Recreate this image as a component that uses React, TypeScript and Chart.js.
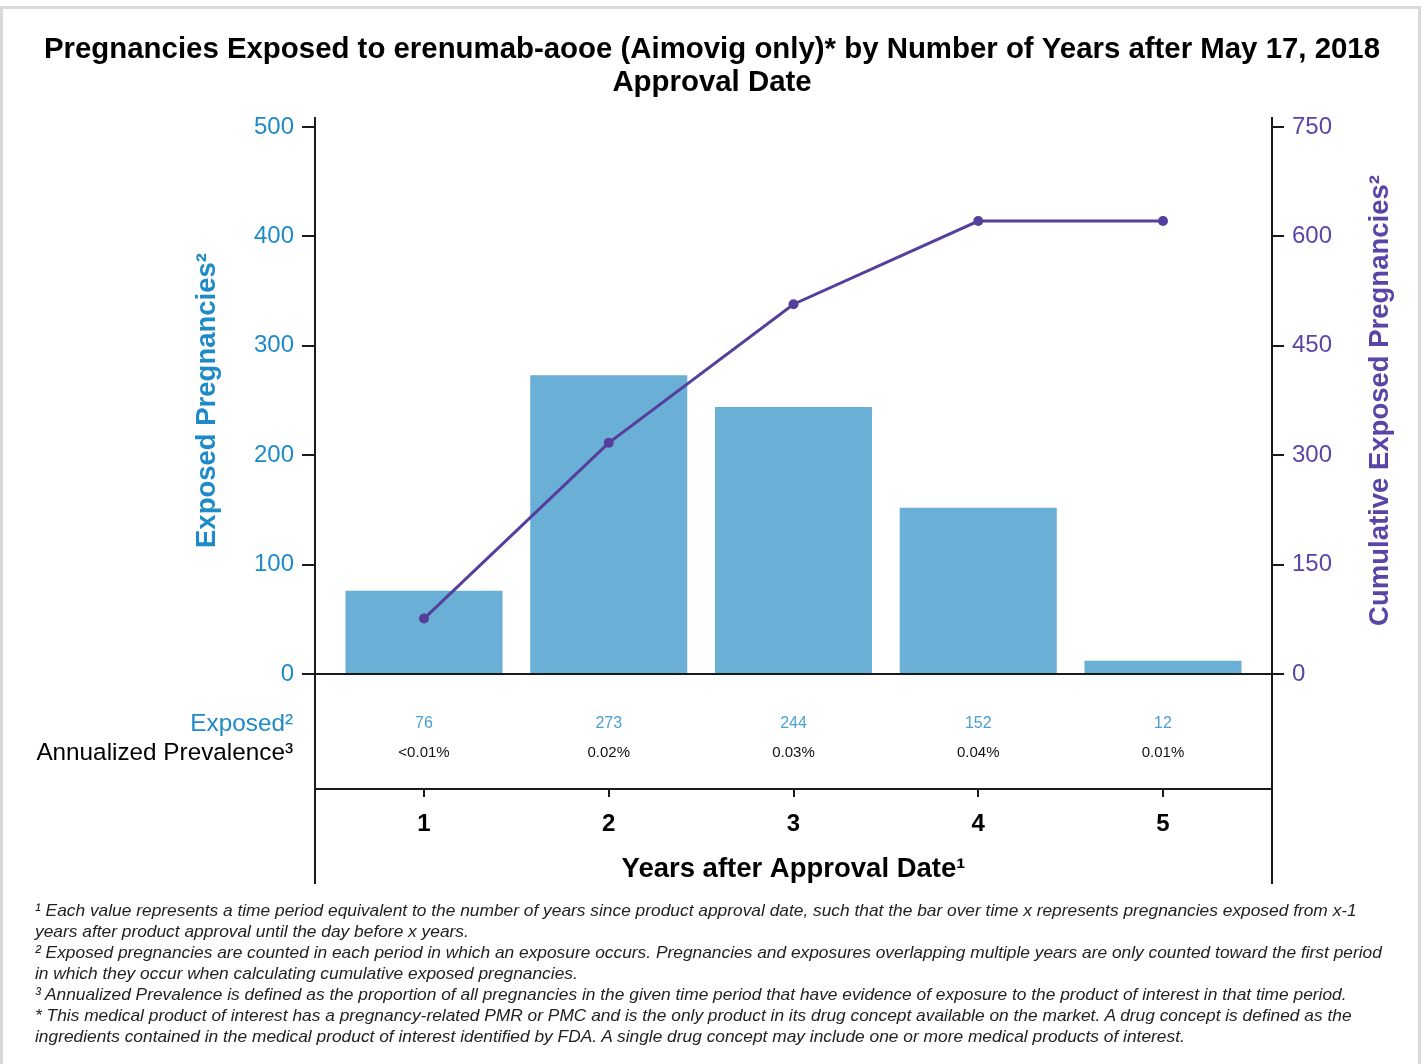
import React, { useEffect, useRef } from "react";
import { Chart, registerables } from "chart.js";

Chart.register(...registerables);

// ---------- data ----------
const years = [1, 2, 3, 4, 5];
const exposed = [76, 273, 244, 152, 12];
const cumulative = [76, 317, 507, 621, 621];
const prevalence = ["<0.01%", "0.02%", "0.03%", "0.04%", "0.01%"];
const leftTicks = [0, 100, 200, 300, 400, 500];
const rightTicks = [0, 150, 300, 450, 600, 750];
const titleLines = [
  "Pregnancies Exposed to erenumab-aooe (Aimovig only)* by Number of Years after May 17, 2018",
  "Approval Date",
];
const leftTitle = "Exposed Pregnancies\u00B2";
const rightTitle = "Cumulative Exposed Pregnancies\u00B2";
const xTitle = "Years after Approval Date\u00B9";
const rowLabels = ["Exposed\u00B2", "Annualized Prevalence\u00B3"];
const footnoteLines = [
  "\u00B9 Each value represents a time period equivalent to the number of years since product approval date, such that the bar over time x represents pregnancies exposed from x-1",
  "years after product approval until the day before x years.",
  "\u00B2 Exposed pregnancies are counted in each period in which an exposure occurs. Pregnancies and exposures overlapping multiple years are only counted toward the first period",
  "in which they occur when calculating cumulative exposed pregnancies.",
  "\u00B3 Annualized Prevalence is defined as the proportion of all pregnancies in the given time period that have evidence of exposure to the product of interest in that time period.",
  "* This medical product of interest has a pregnancy-related PMR or PMC and is the only product in its drug concept available on the market. A drug concept is defined as the",
  "ingredients contained in the medical product of interest identified by FDA. A single drug concept may include one or more medical products of interest.",
];

// ---------- styles ----------
const FONT = "'Liberation Sans', Arial, sans-serif";
const BLUE_TEXT = "#1E8AC8";
const BLUE_LIGHT = "#4A9FD5";
const BAR = "#69AFD6";
const PURPLE = "#563E9C";
const PURPLE_TEXT = "#5A45A6";
const AXIS = "#1a1a1a";
const W = 1424;
const H = 1064;

const overlayPlugin = {
  id: "overlay",
  afterDatasetsDraw(chart: any) {
    const { ctx, chartArea, scales } = chart;
    const xs = scales.x;
    const yl = scales.y;
    ctx.save();
    // axis lines (extend below x axis)
    ctx.strokeStyle = AXIS;
    ctx.lineWidth = 2;
    ctx.beginPath();
    ctx.moveTo(chartArea.left, chartArea.top);
    ctx.lineTo(chartArea.left, chartArea.bottom + 95);
    ctx.moveTo(chartArea.right, chartArea.top);
    ctx.lineTo(chartArea.right, chartArea.bottom + 95);
    const y0 = yl.getPixelForValue(0);
    ctx.moveTo(chartArea.left, y0);
    ctx.lineTo(chartArea.right, y0);
    ctx.stroke();

    // title
    ctx.fillStyle = "#000";
    ctx.textAlign = "center";
    ctx.textBaseline = "middle";
    ctx.font = `bold 29.4px ${FONT}`;
    titleLines.forEach((t, i) => ctx.fillText(t, W / 2, 50 + i * 33));

    // y axis titles
    const yMid = (yl.getPixelForValue(0) + yl.getPixelForValue(500)) / 2;
    ctx.font = `bold 27.5px ${FONT}`;
    ctx.save();
    ctx.translate(207, yMid);
    ctx.rotate(-Math.PI / 2);
    ctx.fillStyle = BLUE_TEXT;
    ctx.fillText(leftTitle, 0, 0);
    ctx.restore();
    ctx.save();
    ctx.translate(1380, yMid);
    ctx.rotate(-Math.PI / 2);
    ctx.fillStyle = PURPLE_TEXT;
    ctx.fillText(rightTitle, 0, 0);
    ctx.restore();

    // table rows
    const r1 = y0 + 50;
    const r2 = y0 + 79;
    ctx.textAlign = "right";
    ctx.font = `24.3px ${FONT}`;
    ctx.fillStyle = BLUE_TEXT;
    ctx.fillText(rowLabels[0], 293, r1);
    ctx.fillStyle = "#000";
    ctx.fillText(rowLabels[1], 293, r2);
    ctx.textAlign = "center";
    years.forEach((yr, i) => {
      const px = xs.getPixelForValue(yr);
      ctx.font = `16px ${FONT}`;
      ctx.fillStyle = BLUE_LIGHT;
      ctx.fillText(String(exposed[i]), px, r1);
      ctx.font = `15px ${FONT}`;
      ctx.fillStyle = "#111";
      ctx.fillText(prevalence[i], px, r2);
    });

    // x axis title
    ctx.font = `bold 27.5px ${FONT}`;
    ctx.fillStyle = "#000";
    ctx.fillText(xTitle, (chartArea.left + chartArea.right) / 2, chartArea.bottom + 80);
    ctx.restore();
  },
};

export default function App() {
  const ref = useRef<HTMLCanvasElement | null>(null);

  useEffect(() => {
    if (!ref.current) return;
    Chart.defaults.font.family = FONT;
    const chart = new Chart(ref.current, {
      type: "bar",
      data: {
        datasets: [
          {
            type: "line",
            label: "Cumulative",
            data: years.map((x, i) => ({ x, y: cumulative[i] })),
            yAxisID: "y2",
            xAxisID: "x",
            borderColor: PURPLE,
            backgroundColor: PURPLE,
            borderWidth: 3,
            pointRadius: 5,
            pointBorderWidth: 0,
            pointBackgroundColor: PURPLE,
            order: 1,
          } as any,
          {
            type: "bar",
            label: "Exposed",
            data: years.map((x, i) => ({ x, y: exposed[i] })),
            yAxisID: "y",
            xAxisID: "x",
            backgroundColor: BAR,
            borderWidth: 0,
            barPercentage: 0.85,
            categoryPercentage: 1,
            order: 2,
          } as any,
        ],
      },
      options: {
        responsive: false,
        animation: false,
        devicePixelRatio: 1,
        layout: { padding: { top: 117, left: 0, right: 0, bottom: 0 } },
        plugins: { legend: { display: false }, tooltip: { enabled: false }, title: { display: false } },
        scales: {
          x: {
            type: "linear",
            position: "bottom",
            offset: false,
            min: 0.41,
            max: 5.59,
            afterBuildTicks: (s: any) => {
              s.ticks = years.map((v) => ({ value: v }));
            },
            afterFit: (s: any) => {
              s.height = H - 789;
            },
            grid: { offset: false, drawOnChartArea: false, drawTicks: true, tickLength: 8, color: AXIS, lineWidth: 2 },
            border: { display: true, color: AXIS, width: 2 },
            ticks: {
              font: { size: 24, weight: "bold", family: FONT },
              color: "#000",
              padding: 13,
              callback: (v: any) => String(v),
            },
          },
          y: {
            type: "linear",
            position: "left",
            min: -105.12,
            max: 509.14,
            afterBuildTicks: (s: any) => {
              s.ticks = leftTicks.map((v) => ({ value: v }));
            },
            afterFit: (s: any) => {
              s.width = 315;
            },
            grid: { drawOnChartArea: false, drawTicks: true, tickLength: 13, color: AXIS, lineWidth: 2 },
            border: { display: false },
            ticks: { font: { size: 24, family: FONT }, color: BLUE_TEXT, padding: 8 },
          },
          y2: {
            type: "linear",
            position: "right",
            min: -157.68,
            max: 763.71,
            afterBuildTicks: (s: any) => {
              s.ticks = rightTicks.map((v) => ({ value: v }));
            },
            afterFit: (s: any) => {
              s.width = W - 1272;
            },
            grid: { drawOnChartArea: false, drawTicks: true, tickLength: 12, color: AXIS, lineWidth: 2 },
            border: { display: false },
            ticks: { font: { size: 24, family: FONT }, color: PURPLE_TEXT, padding: 8 },
          },
        },
      } as any,
      plugins: [overlayPlugin],
    });
    return () => chart.destroy();
  }, []);

  return (
    <div style={{ position: "absolute", left: 0, top: 0, width: W, height: H, background: "#fff", overflow: "hidden" }}>
      <div
        style={{
          position: "absolute",
          left: 0,
          top: 6,
          width: 1421,
          height: 1080,
          boxSizing: "border-box",
          border: "3px solid #d9d9d9",
        }}
      />
      <canvas ref={ref} width={W} height={H} style={{ position: "absolute", left: 0, top: 0, width: W, height: H }} />
      {footnoteLines.map((t, i) => (
        <div
          key={i}
          style={{
            position: "absolute",
            left: 35,
            top: 900 + i * 21,
            height: 21,
            lineHeight: "21px",
            fontFamily: FONT,
            fontStyle: "italic",
            fontSize: 17.35,
            color: "#222",
            whiteSpace: "nowrap",
          }}
        >
          {t}
        </div>
      ))}
    </div>
  );
}
